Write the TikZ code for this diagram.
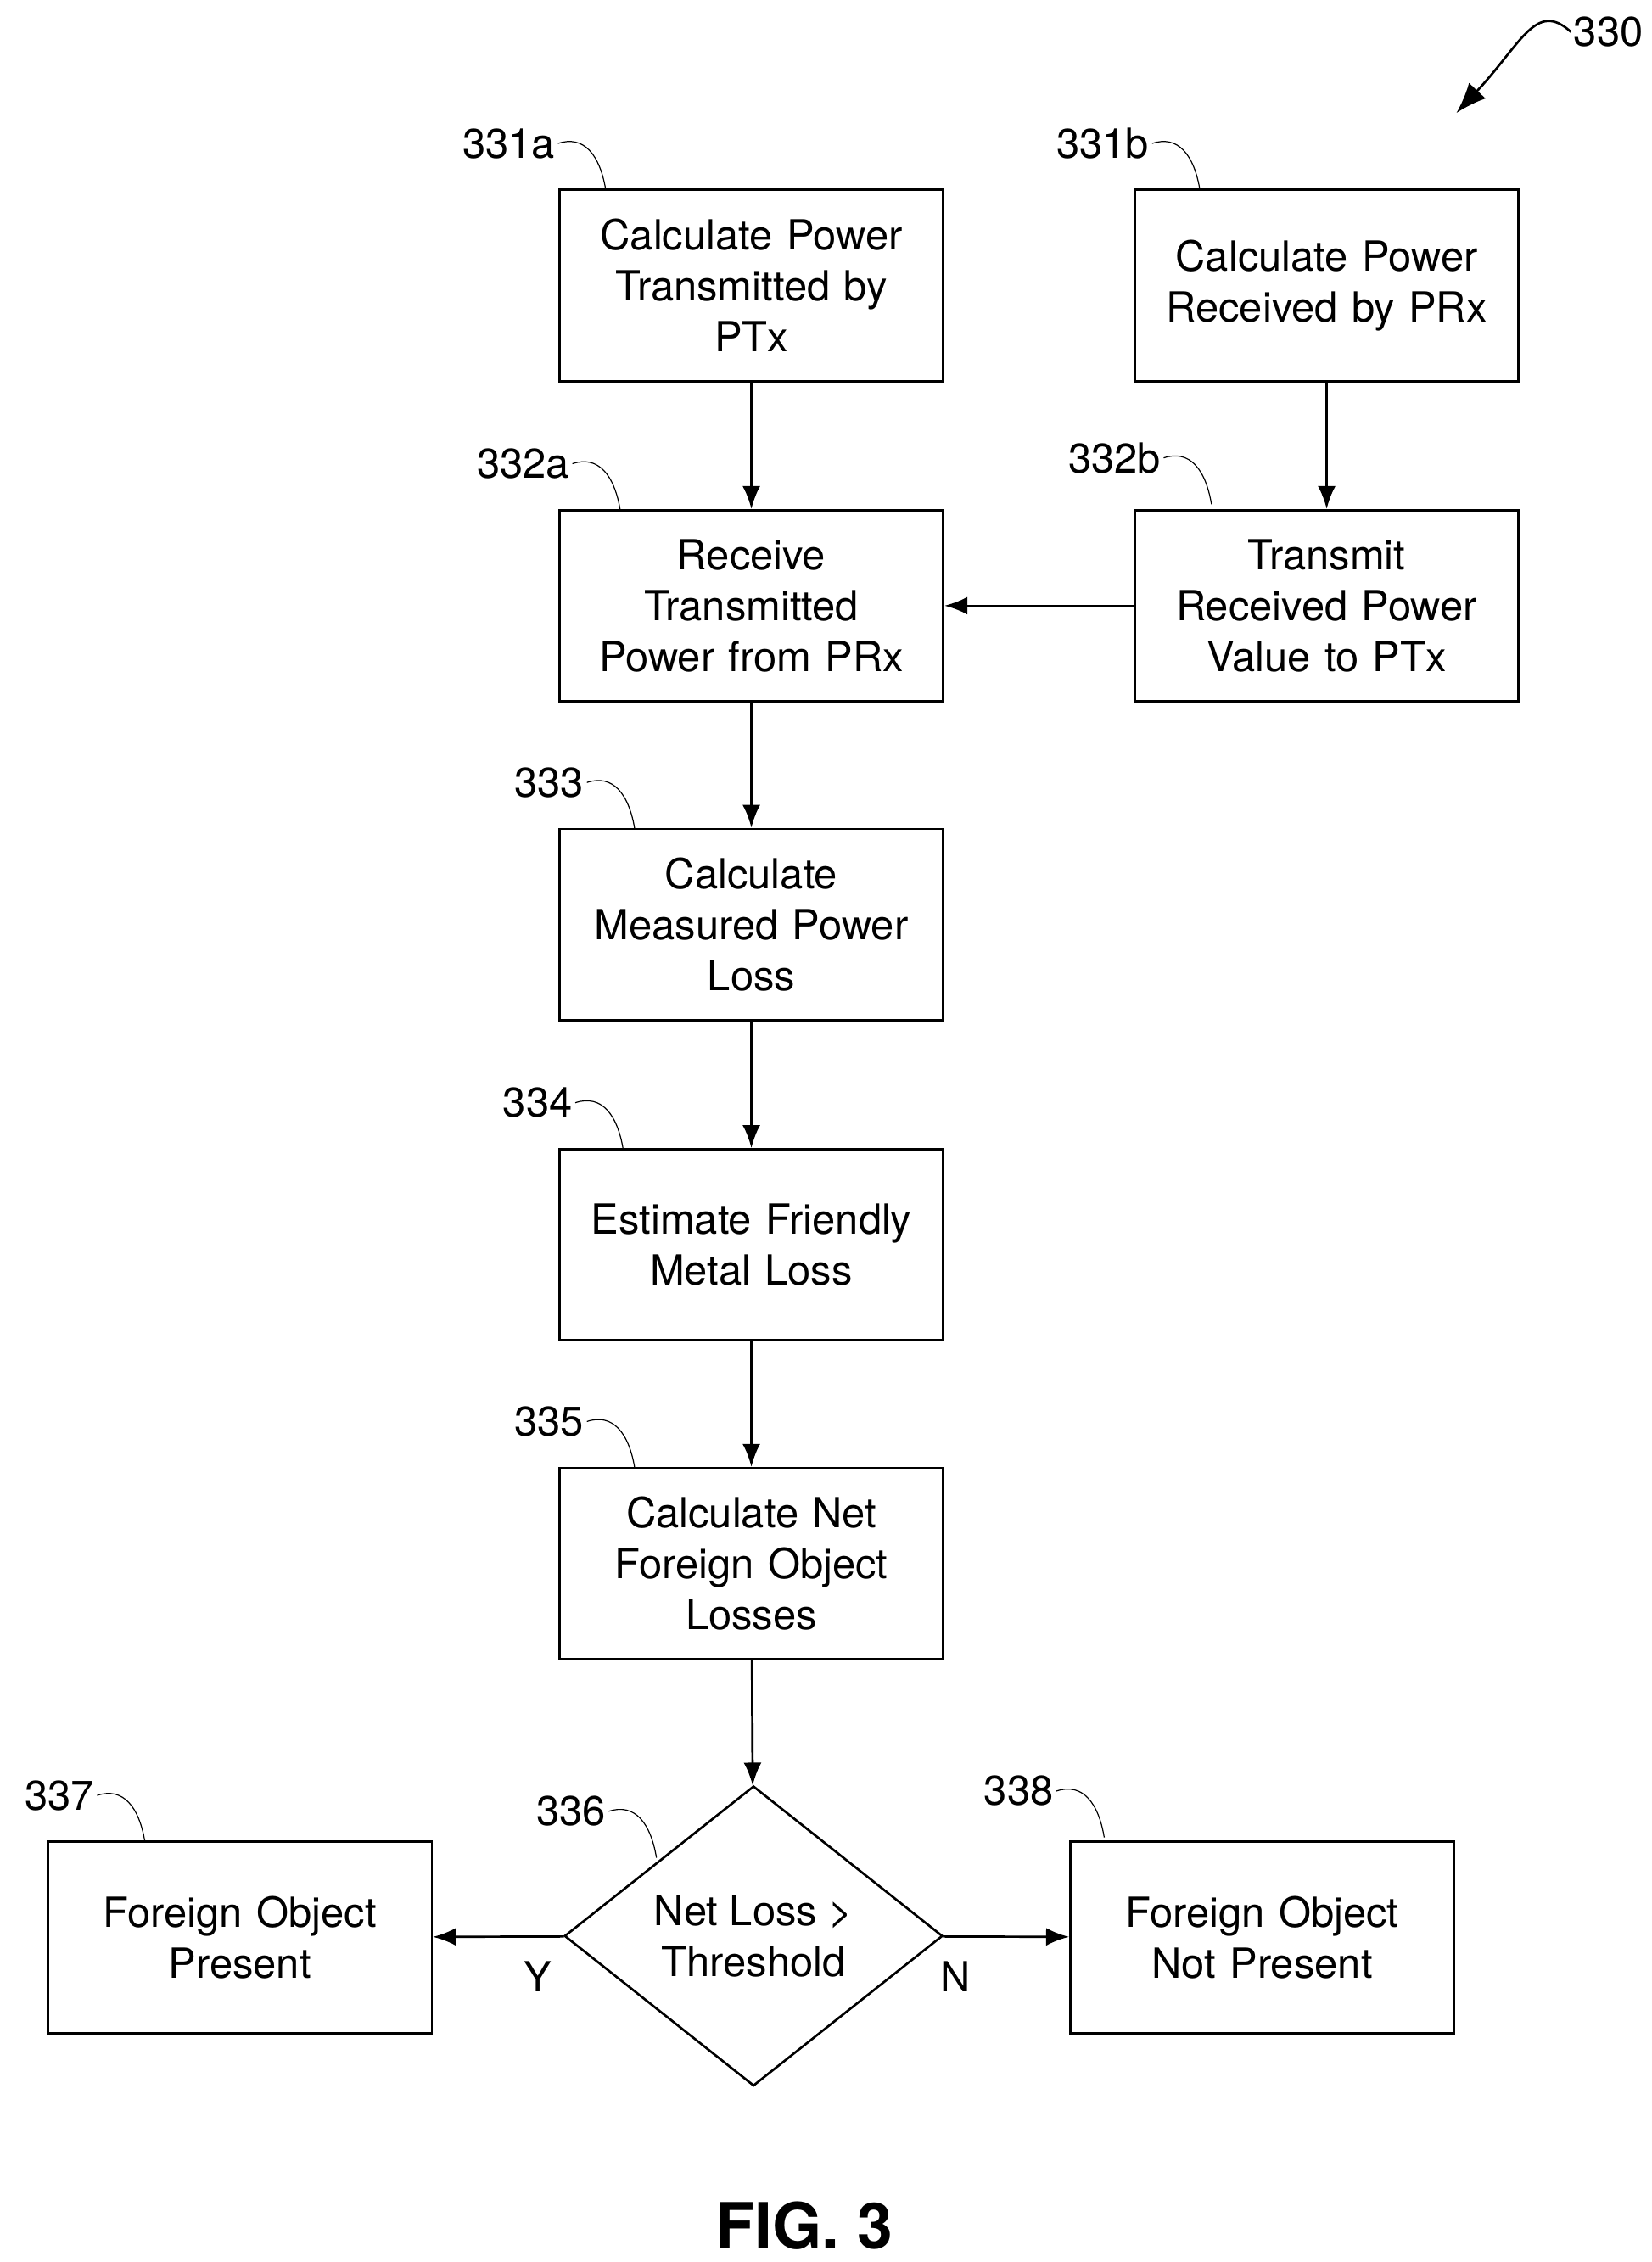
\documentclass[tikz,border=0pt]{standalone}
\usepackage{fontspec}
\setmainfont{TeX Gyre Heros}
\usetikzlibrary{shapes.geometric,arrows.meta}
\newcommand{\leadlabel}[3]{%
  \coordinate (e#1) at #2;
  \draw ([shift={(-33,-32)}]e#1) node [anchor=east,inner sep=1pt] {#3}
    .. controls ([shift={(-15,-38)}]e#1) and ([shift={(-4,-24)}]e#1) .. (e#1);}
\begin{document}
\begin{tikzpicture}[x=0.02cm,y=-0.02cm,font=\fontsize{16.3}{20}\selectfont]
\tikzstyle{box} = [draw,line width=0.9pt,minimum width=5.3cm,minimum height=2.64cm,
                   text width=4.9cm,align=center,inner sep=0]
\tikzstyle{dec} = [draw,diamond,line width=0.9pt,aspect=1.26,minimum width=5.22cm,
                   minimum height=4.14cm,inner sep=0,align=center]
\tikzstyle{flow} = [-{Latex[length=9pt,width=7pt]},line width=0.9pt]
\useasboundingbox (0,0) rectangle (1140,1561);
\node [box] (c1) at (518.5,197) {Calculate Power\\Transmitted by\\PTx};
\node [box] (c2) at (915.5,197) {Calculate Power\\Received by PRx};
\node [box] (r1) at (518.5,418) {Receive\\Transmitted\\Power from PRx};
\node [box] (t2) at (915.5,418) {Transmit\\Received Power\\Value to PTx};
\node [box] (m) at (518.5,638) {Calculate\\Measured Power\\Loss};
\node [box] (f) at (518.5,859) {Estimate Friendly\\Metal Loss};
\node [box] (n) at (518.5,1079) {Calculate Net\\Foreign Object\\Losses};
\node [dec] (d) at (520,1336) {Net Loss >\\Threshold};
\node [box] (y) at (165.5,1337) {Foreign Object\\Present};
\node [box] (x) at (871,1337) {Foreign Object\\Not Present};
\draw [flow] (c1) -- (r1);
\draw [flow] (c2) -- (t2);
\draw [flow] (t2) -- (r1);
\draw [flow] (r1) -- (m);
\draw [flow] (m) -- (f);
\draw [flow] (f) -- (n);
\draw [flow] (n) -- (d);
\draw [flow] (d) -- node [below=6pt,pos=0.2] {Y} (y);
\draw [flow] (d) -- node [below=6pt,pos=0.1] {N} (x);
\leadlabel{a}{(418,131)}{331a}
\leadlabel{b}{(828,131)}{331b}
\leadlabel{c}{(428,352)}{332a}
\leadlabel{d}{(836,348)}{332b}
\leadlabel{e}{(438,572)}{333}
\leadlabel{f}{(430,793)}{334}
\leadlabel{g}{(438,1013)}{335}
\leadlabel{h}{(453,1282)}{336}
\leadlabel{i}{(100,1271)}{337}
\leadlabel{j}{(762,1268)}{338}
\node [anchor=west,inner sep=1pt] (ref) at (1084,22) {330};
\coordinate (tip) at (1005,78);
\draw [-{Latex[length=12pt,width=9pt]},line width=0.9pt] (ref.west)
  .. controls (1060,0) and (1050,30) .. (tip);
\node [font=\fontsize{25}{28}\selectfont\bfseries] (fig) at (555,1536) {FIG. 3};
\end{tikzpicture}
\end{document}
